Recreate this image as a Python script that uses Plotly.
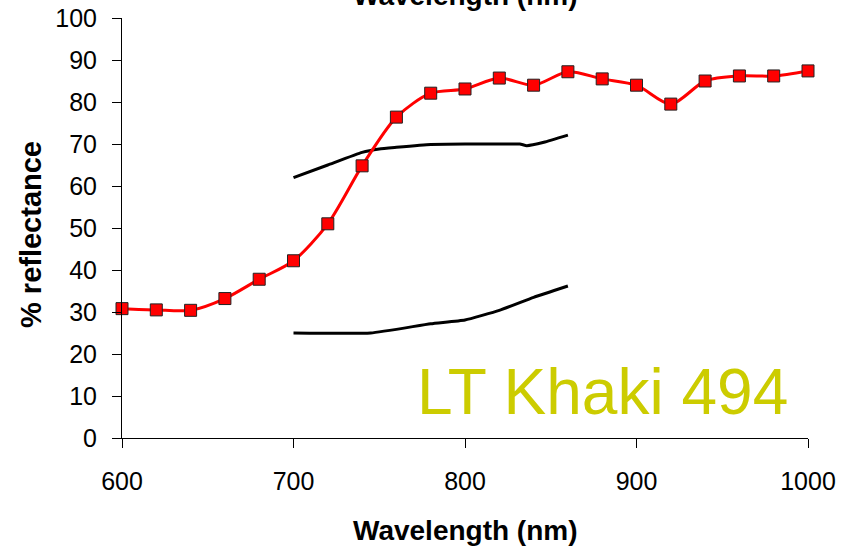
import plotly.graph_objects as go

# Measured sample (red)
wavelength = [600, 620, 640, 660, 680, 700, 720, 740, 760, 780, 800, 820, 840, 860, 880, 900, 920, 940, 960, 980, 1000]
reflectance = [30.8, 30.5, 30.4, 33.2, 37.8, 42.2, 51.0, 64.8, 76.4, 82.1, 83.1, 85.7, 84.0, 87.2, 85.5, 84.0, 79.5, 85.0, 86.2, 86.2, 87.4]

# Upper specification limit (black)
upper_x = [700, 720, 740, 750, 760, 780, 800, 820, 832, 836, 846, 860]
upper_y = [62.0, 65.0, 68.0, 68.8, 69.2, 69.9, 70.0, 70.0, 70.0, 69.6, 70.4, 72.1]

# Lower specification limit (black)
lower_x = [700, 745, 780, 800, 820, 840, 860]
lower_y = [25.0, 25.0, 27.2, 28.1, 30.4, 33.5, 36.2]

x_ticks = [600, 700, 800, 900, 1000]
y_ticks = [0, 10, 20, 30, 40, 50, 60, 70, 80, 90, 100]

label_text = "LT Khaki 494"
axis_title = "Wavelength (nm)"
y_title = "% reflectance"

FONT = "Liberation Sans, Arial, sans-serif"

fig = go.Figure()
fig.add_trace(go.Scatter(x=upper_x, y=upper_y, mode="lines",
                         line=dict(color="black", width=3, shape="spline", smoothing=0.4),
                         showlegend=False, hoverinfo="skip"))
fig.add_trace(go.Scatter(x=lower_x, y=lower_y, mode="lines",
                         line=dict(color="black", width=3, shape="spline", smoothing=0.4),
                         showlegend=False, hoverinfo="skip"))
fig.add_trace(go.Scatter(x=wavelength, y=reflectance, mode="lines+markers",
                         line=dict(color="#ff0000", width=3, shape="spline", smoothing=0.8),
                         marker=dict(symbol="square", size=12, color="#ff0000",
                                     line=dict(color="#222222", width=1)),
                         cliponaxis=False, showlegend=False))

pw, ph = 850 - 122 - 42, 546 - 18 - 108

fig.update_layout(
    template="none",
    width=850, height=546,
    margin=dict(l=122, r=42, t=18, b=108, autoexpand=False),
    paper_bgcolor="white", plot_bgcolor="white",
    font=dict(family=FONT, color="black", size=25),
    xaxis=dict(range=[600, 1000], tickvals=x_ticks, ticks="outside", ticklen=9,
               tickcolor="black", showline=True, linecolor="black", linewidth=1,
               showgrid=False, zeroline=False, ticklabelstandoff=12, automargin=False,
               tickfont=dict(size=25, family=FONT)),
    yaxis=dict(range=[0, 100], tickvals=y_ticks, ticks="outside", ticklen=9,
               tickcolor="black", showline=True, linecolor="black", linewidth=1,
               showgrid=False, zeroline=False, ticklabelstandoff=10, automargin=False,
               tickfont=dict(size=25, family=FONT)),
    annotations=[
        dict(text=label_text, x=880, y=11, xref="x", yref="y", showarrow=False,
             font=dict(size=64, color="#cccc00", family=FONT), xanchor="center", yanchor="middle"),
        dict(text="<b>" + axis_title + "</b>", x=0.5, y=(438 - 530) / ph, xref="paper", yref="paper",
             showarrow=False, font=dict(size=28, family=FONT), xanchor="center", yanchor="middle"),
        dict(text="<b>" + axis_title + "</b>", x=0.5, y=1.0, xref="paper", yref="paper",
             yshift=5, showarrow=False, font=dict(size=28, family=FONT),
             xanchor="center", yanchor="bottom"),
        dict(text="<b>" + y_title + "</b>", x=(31 - 122) / pw, y=(438 - 235) / ph,
             xref="paper", yref="paper",
             showarrow=False, textangle=-90, font=dict(size=29, family=FONT),
             xanchor="center", yanchor="middle"),
    ],
)

fig.write_html("out.html")
